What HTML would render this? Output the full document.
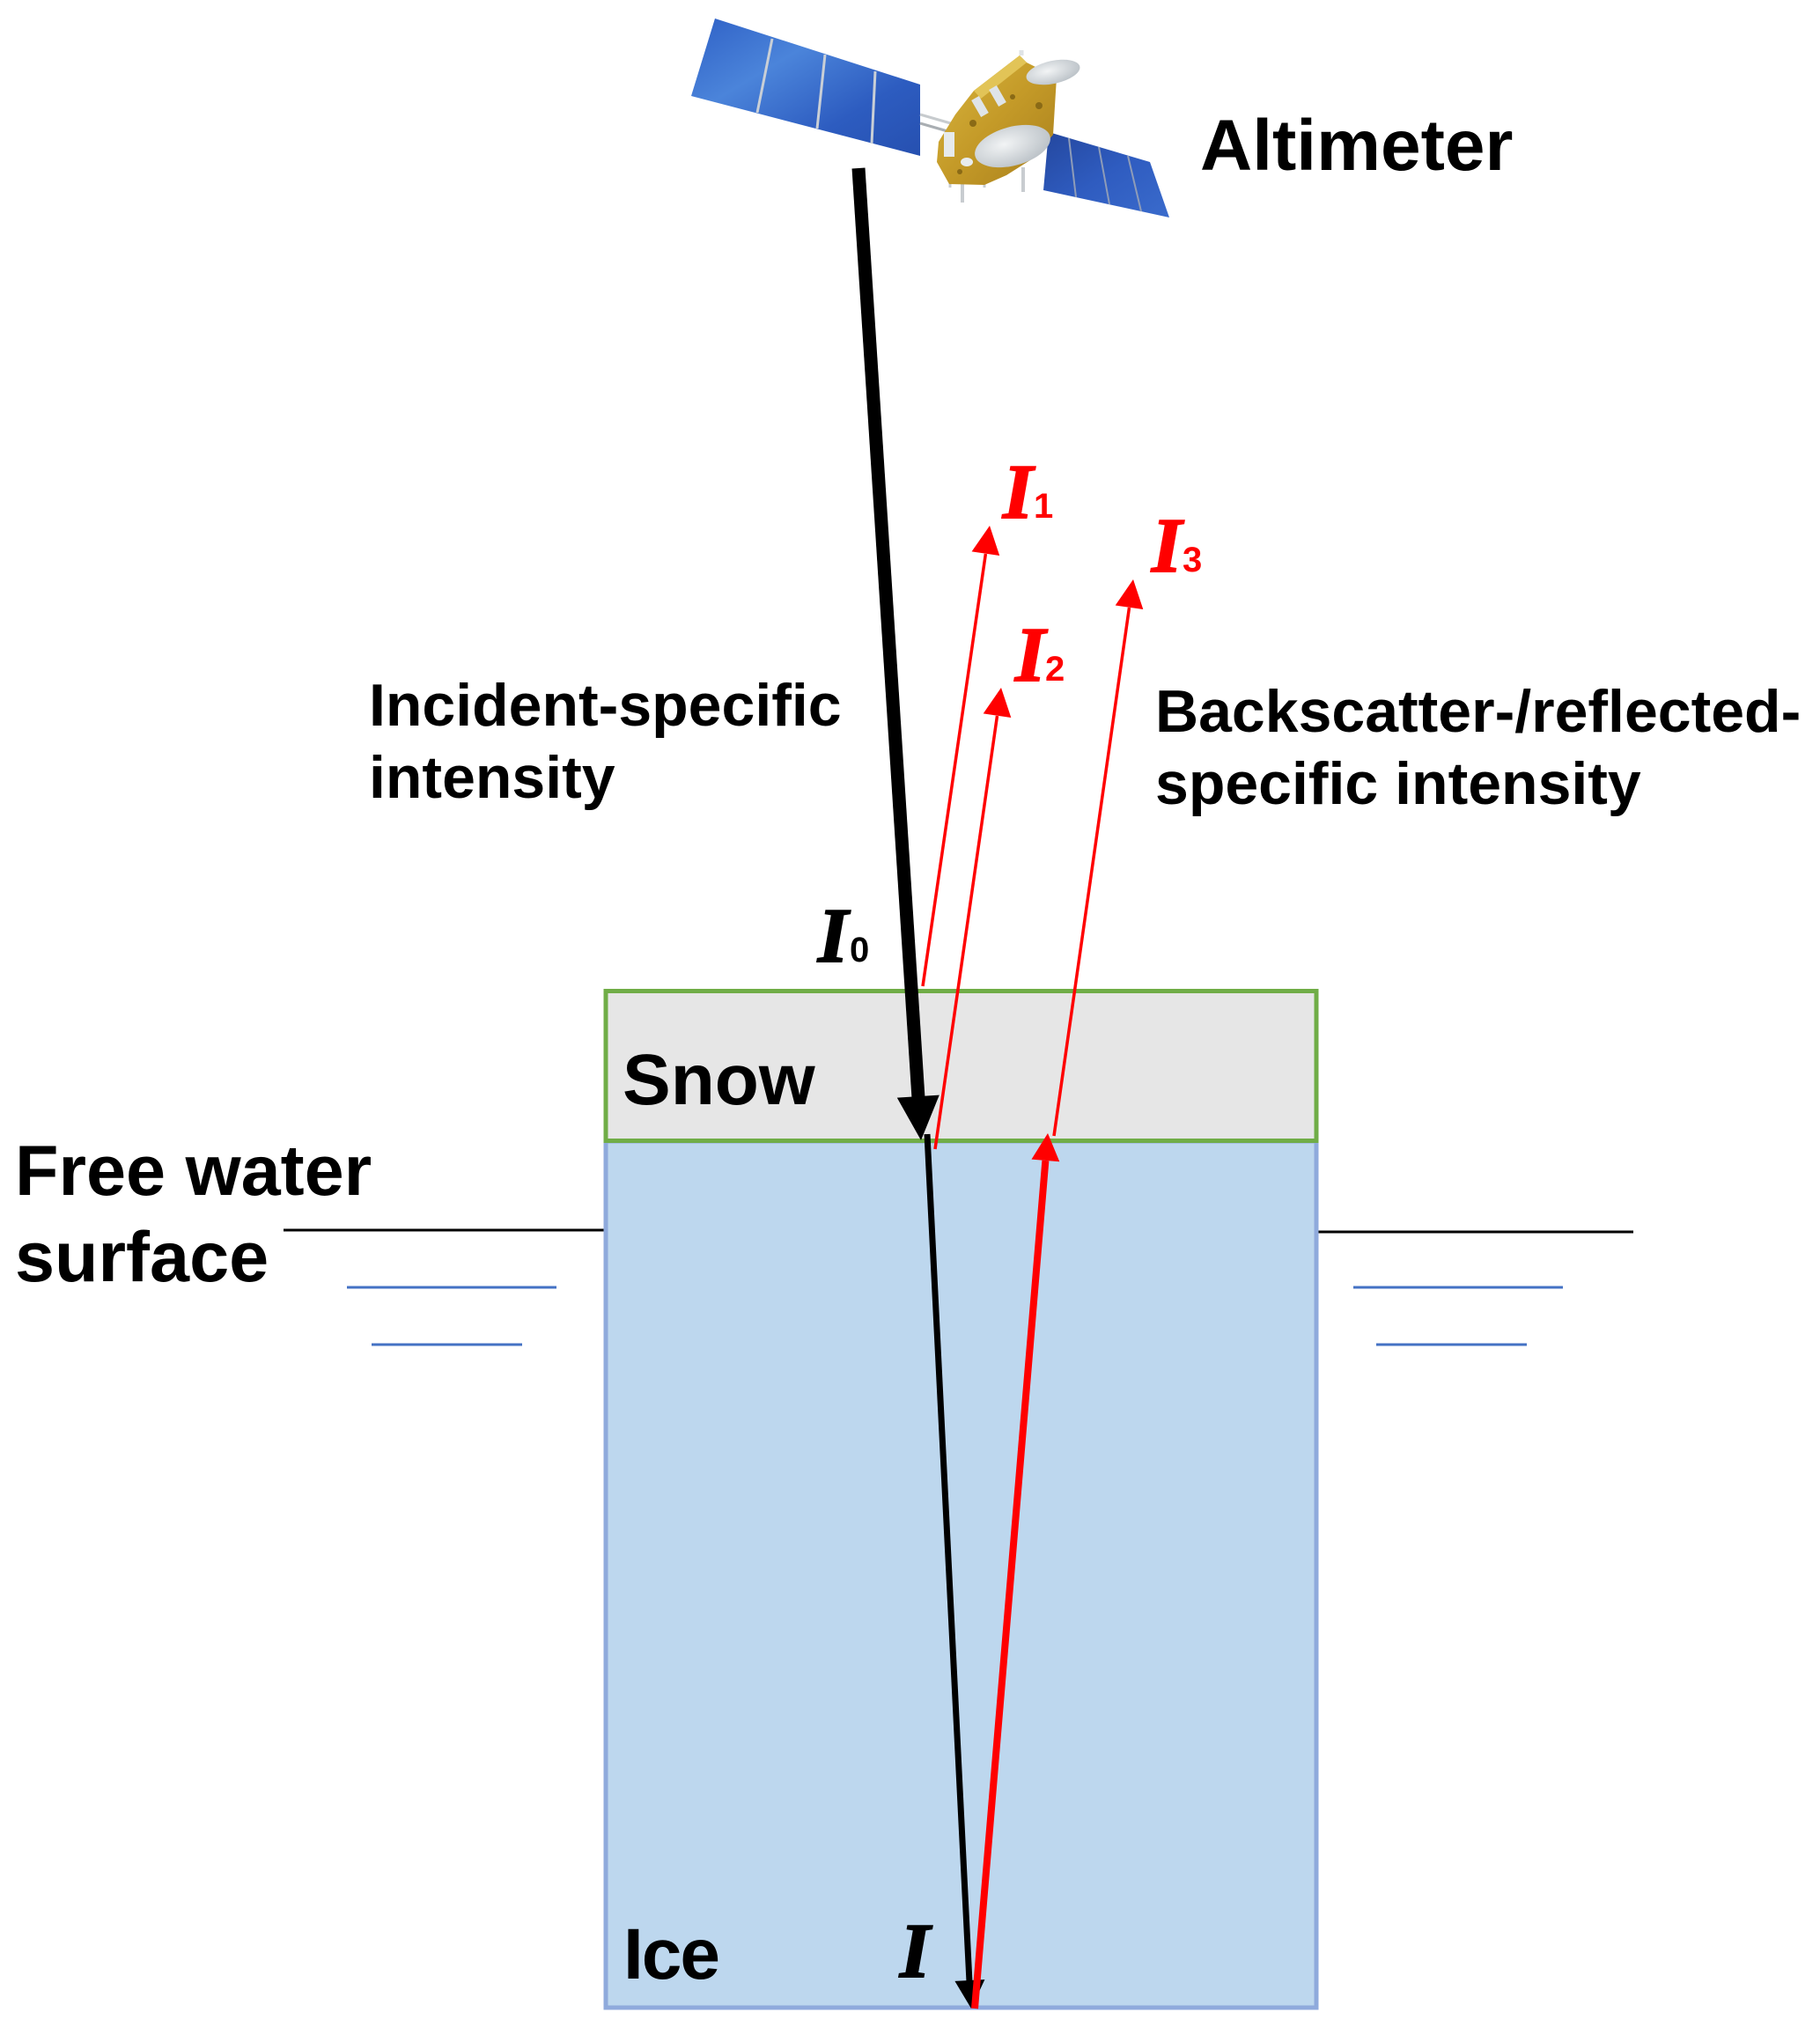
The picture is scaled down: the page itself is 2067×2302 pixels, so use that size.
<!DOCTYPE html>
<html>
<head>
<meta charset="utf-8">
<style>
  html, body { margin: 0; padding: 0; background: #ffffff; }
  body { width: 2067px; height: 2302px; overflow: hidden; }
  svg { display: block; }
  .sans { font-family: "Liberation Sans", Arial, sans-serif; font-weight: bold; }
  .ital { font-family: "Liberation Serif", "Times New Roman", serif; font-weight: bold; font-style: italic; }
</style>
</head>
<body>
<svg width="2067" height="2302" viewBox="0 0 2067 2302" xmlns="http://www.w3.org/2000/svg">
  <defs>
    <linearGradient id="panelL" x1="0" y1="0" x2="1" y2="1">
      <stop offset="0" stop-color="#2f61c6"/>
      <stop offset="0.35" stop-color="#4b84da"/>
      <stop offset="0.7" stop-color="#2d5cc0"/>
      <stop offset="1" stop-color="#2650b0"/>
    </linearGradient>
    <linearGradient id="panelR" x1="0" y1="0" x2="1" y2="1">
      <stop offset="0" stop-color="#24479e"/>
      <stop offset="0.5" stop-color="#2f5cc0"/>
      <stop offset="1" stop-color="#3a6bcc"/>
    </linearGradient>
    <linearGradient id="gold" x1="0" y1="0" x2="1" y2="1">
      <stop offset="0" stop-color="#d9b640"/>
      <stop offset="0.5" stop-color="#c49a28"/>
      <stop offset="1" stop-color="#a87f1c"/>
    </linearGradient>
    <radialGradient id="dish" cx="0.4" cy="0.4" r="0.7">
      <stop offset="0" stop-color="#f2f4f5"/>
      <stop offset="1" stop-color="#b7bec4"/>
    </radialGradient>
  </defs>

  <!-- ===== Satellite ===== -->
  <polygon points="812,21 1045,96 1045,177 785,109" fill="url(#panelL)"/>
  <line x1="877" y1="44" x2="860" y2="128" stroke="#c9cfd6" stroke-width="3"/>
  <line x1="937" y1="62" x2="928" y2="146" stroke="#c9cfd6" stroke-width="3"/>
  <line x1="994" y1="81" x2="990" y2="163" stroke="#c9cfd6" stroke-width="3"/>
  <line x1="1045" y1="130" x2="1090" y2="143" stroke="#c7cbce" stroke-width="3"/>
  <line x1="1045" y1="140" x2="1090" y2="153" stroke="#a9aeb2" stroke-width="3"/>
  <polygon points="1191,150 1306,184 1328,247 1185,216" fill="url(#panelR)"/>
  <line x1="1214" y1="157" x2="1222" y2="224" stroke="#8e9cb8" stroke-width="2"/>
  <line x1="1248" y1="167" x2="1260" y2="232" stroke="#8e9cb8" stroke-width="2"/>
  <line x1="1281" y1="177" x2="1296" y2="240" stroke="#8e9cb8" stroke-width="2"/>
  <line x1="1093" y1="205" x2="1093" y2="230" stroke="#c8ccd0" stroke-width="4"/>
  <line x1="1162" y1="190" x2="1162" y2="218" stroke="#c8ccd0" stroke-width="4"/>
  <line x1="1079" y1="205" x2="1079" y2="213" stroke="#c8ccd0" stroke-width="3"/>
  <line x1="1118" y1="207" x2="1118" y2="213" stroke="#c8ccd0" stroke-width="3"/>
  <polygon points="1158,63 1106,103 1085,130 1066,161 1064,184 1078,209 1118,210 1143,199 1173,180 1196,153 1200,88 1166,71" fill="url(#gold)"/>
  <polygon points="1106,103 1158,63 1166,71 1114,112" fill="#e2c457"/>
  <rect x="1108" y="110" width="10" height="22" fill="#dfe4e8" transform="rotate(-30 1113 121)"/>
  <rect x="1128" y="98" width="10" height="22" fill="#dfe4e8" transform="rotate(-30 1133 109)"/>
  <rect x="1072" y="150" width="12" height="28" fill="#e6eaec"/>
  <circle cx="1105" cy="140" r="4" fill="#8a6a16"/>
  <circle cx="1180" cy="120" r="4" fill="#8a6a16"/>
  <circle cx="1150" cy="110" r="3" fill="#8a6a16"/>
  <circle cx="1090" cy="195" r="3" fill="#8a6a16"/>
  <ellipse cx="1196" cy="82" rx="31" ry="13" fill="url(#dish)" transform="rotate(-12 1196 82)"/>
  <line x1="1160" y1="63" x2="1160" y2="57" stroke="#dfe3e6" stroke-width="5"/>
  <ellipse cx="1150" cy="166" rx="44" ry="22" fill="url(#dish)" transform="rotate(-15 1150 166)"/>
  <ellipse cx="1098" cy="184" rx="7" ry="5" fill="#e8ecee"/>

  <!-- ===== Altimeter label ===== -->
  <text x="1363" y="193" class="sans" font-size="82" fill="#000">Altimeter</text>

  <!-- ===== Water-level lines ===== -->
  <line x1="322" y1="1397" x2="688" y2="1397" stroke="#000" stroke-width="3"/>
  <line x1="1492" y1="1399" x2="1855" y2="1399" stroke="#000" stroke-width="3"/>
  <line x1="394" y1="1462" x2="632" y2="1462" stroke="#4472C4" stroke-width="3"/>
  <line x1="422" y1="1527" x2="593" y2="1527" stroke="#4472C4" stroke-width="3"/>
  <line x1="1537" y1="1462" x2="1775" y2="1462" stroke="#4472C4" stroke-width="3"/>
  <line x1="1563" y1="1527" x2="1734" y2="1527" stroke="#4472C4" stroke-width="3"/>

  <!-- ===== Ice box ===== -->
  <rect x="688" y="1296" width="807" height="984" fill="#BDD7EE" stroke="#8FAADC" stroke-width="5"/>
  <!-- ===== Snow box ===== -->
  <rect x="688" y="1125.5" width="807" height="170" fill="#E6E6E6" stroke="#70AD47" stroke-width="5"/>

  <!-- ===== Labels in boxes ===== -->
  <text x="707" y="1254" class="sans" font-size="82" fill="#000">Snow</text>
  <text x="708" y="2247" class="sans" font-size="82" letter-spacing="-2" fill="#000">Ice</text>

  <!-- ===== Free water surface ===== -->
  <text class="sans" font-size="81" fill="#000">
    <tspan x="17" y="1357">Free water</tspan>
    <tspan x="17" y="1455">surface</tspan>
  </text>

  <!-- ===== Incident-specific intensity ===== -->
  <text class="sans" font-size="68" fill="#000">
    <tspan x="419" y="824">Incident-specific</tspan>
    <tspan x="419" y="906">intensity</tspan>
  </text>

  <!-- ===== Backscatter text ===== -->
  <text class="sans" font-size="68" fill="#000">
    <tspan x="1312" y="831">Backscatter-/reflected-</tspan>
    <tspan x="1312" y="913">specific intensity</tspan>
  </text>

  <!-- ===== Thick black incident arrow ===== -->
  <line x1="975" y1="191" x2="1043" y2="1247" stroke="#000" stroke-width="15"/>
  <polygon points="1046,1295 1066.8,1243.6 1018.8,1246.6" fill="#000"/>

  <!-- ===== Thin black transmitted arrow ===== -->
  <line x1="1053" y1="1288" x2="1101" y2="2251" stroke="#000" stroke-width="7"/>
  <polygon points="1103,2281 1118.4,2248.1 1084.4,2249.9" fill="#000"/>

  <!-- ===== Thick red reflected arrow ===== -->
  <line x1="1107" y1="2281" x2="1187.4" y2="1318" stroke="#FF0000" stroke-width="8"/>
  <polygon points="1190,1287 1203.3,1319.2 1171.5,1316.6" fill="#FF0000"/>

  <!-- ===== Thin red arrows ===== -->
  <line x1="1048" y1="1120" x2="1119.4" y2="629" stroke="#FF0000" stroke-width="3.5"/>
  <polygon points="1124,597 1135.2,631 1103.6,626.4" fill="#FF0000"/>

  <line x1="1062" y1="1305" x2="1132.5" y2="813" stroke="#FF0000" stroke-width="3.5"/>
  <polygon points="1137,781 1148.3,815 1116.7,810.4" fill="#FF0000"/>

  <line x1="1197" y1="1290" x2="1282.5" y2="690" stroke="#FF0000" stroke-width="3.5"/>
  <polygon points="1287,658 1298.3,692 1266.7,687.5" fill="#FF0000"/>

  <!-- ===== Intensity symbols ===== -->
  <text x="1139" y="588" class="ital" font-size="88" fill="#FF0000" stroke="#FF0000" stroke-width="2">I</text>
  <text x="1174" y="588" class="sans" font-size="40" fill="#FF0000">1</text>

  <text x="1153" y="773" class="ital" font-size="88" fill="#FF0000" stroke="#FF0000" stroke-width="2">I</text>
  <text x="1187" y="773" class="sans" font-size="40" fill="#FF0000">2</text>

  <text x="1308" y="649" class="ital" font-size="88" fill="#FF0000" stroke="#FF0000" stroke-width="2">I</text>
  <text x="1343" y="649" class="sans" font-size="40" fill="#FF0000">3</text>

  <text x="929" y="1092" class="ital" font-size="88" fill="#000" stroke="#000" stroke-width="2">I</text>
  <text x="965" y="1092" class="sans" font-size="40" fill="#000">0</text>

  <text x="1022" y="2245" class="ital" font-size="88" fill="#000" stroke="#000" stroke-width="2">I</text>
</svg>
</body>
</html>
